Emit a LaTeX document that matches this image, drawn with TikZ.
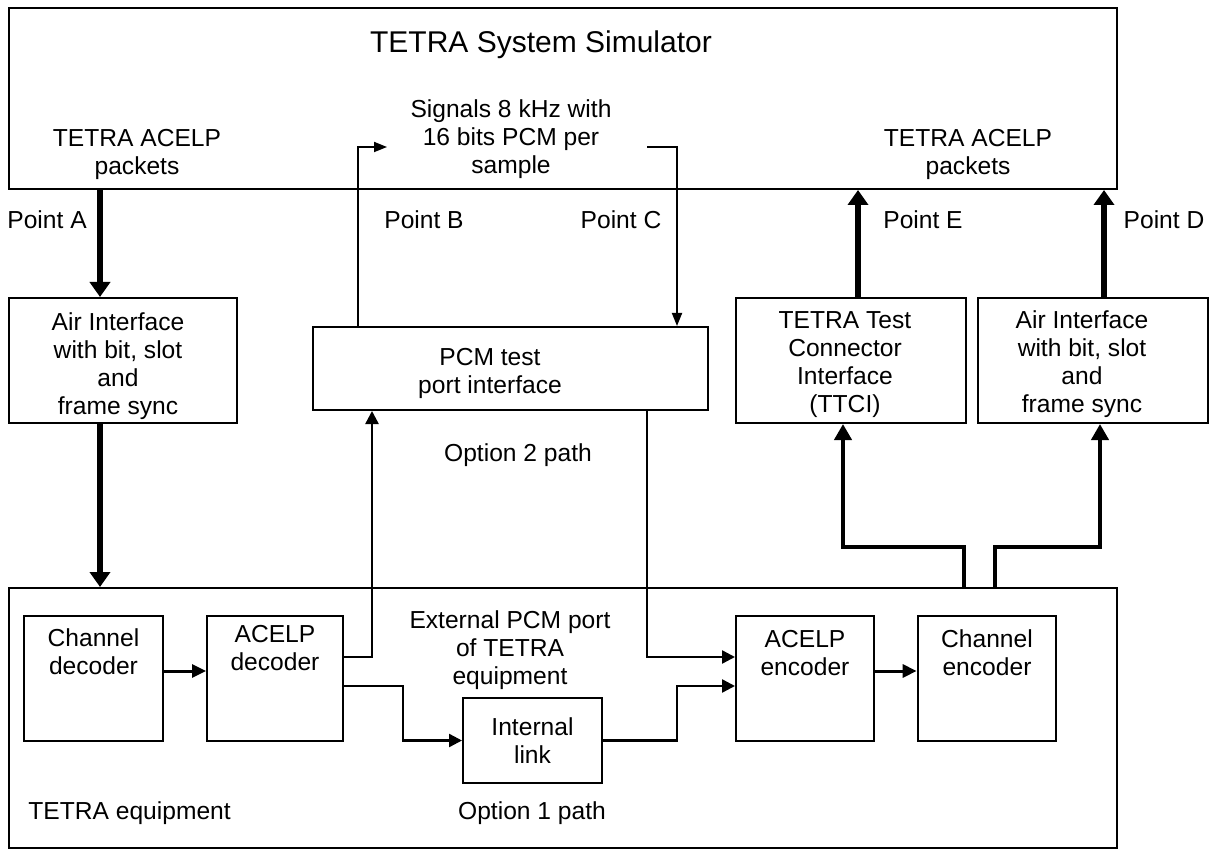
\documentclass[tikz,border=0pt]{standalone}
\usepackage{fontspec}
\setmainfont{Liberation Sans}
\usetikzlibrary{positioning,arrows.meta}

\tikzset{
	box/.style={draw=black, line width=1pt, align=center, inner sep=0pt},
	boldbox/.style={box, line width=1.35pt},
	txt/.style={align=center, inner sep=0pt},
	heavy/.style={line width=3.25pt, -{Triangle[length=7.5pt,width=10pt]}},
	feed/.style={line width=2.2pt, -{Triangle[length=8pt,width=8.5pt]}},
	signal/.style={line width=0.9pt, -{Triangle[length=6.5pt,width=5pt]}},
	wire/.style={line width=1.2pt, -{Triangle[length=6.5pt,width=6.5pt]}},
	midarrow/.style={line width=1.5pt, -{Triangle[length=7pt,width=6.5pt]}}
}

\begin{document}
\begin{tikzpicture}[x=0.5pt, y=-0.5pt, font=\fontsize{12.3}{14}\selectfont]
	\useasboundingbox (0,0) rectangle (1210,850);
	
	% simulator and interfaces
	\node[box, minimum width=554pt, minimum height=90.5pt] (sim) at (562.75,98.5) {};
	\node[box, minimum width=114pt, minimum height=62.5pt] (airl) at (123,360.5) {};
	\node[box, minimum width=197.5pt, minimum height=41.5pt] (pcm) at (510.5,368.5) {};
	\node[box, minimum width=115pt, minimum height=62.5pt] (ttci) at (851,360.5) {};
	\node[box, minimum width=115pt, minimum height=62.5pt] (airr) at (1093,360.5) {};
	
	\node[txt] (airltxt) at (118,366) {Air Interface\\with bit, slot\\and\\frame sync};
	\node[txt] (pcmtxt) at (490,373) {PCM test\\port interface};
	\node[txt] (ttcitxt) at (845,365) {TETRA Test\\Connector\\Interface\\(TTCI)};
	\node[txt] (airrtxt) at (1082,364) {Air Interface\\with bit, slot\\and\\frame sync};
	
	% equipment
	\node[box, minimum width=554pt, minimum height=130pt] (equip) at (563,718) {};
	\node[boldbox, minimum width=69.5pt, minimum height=62.5pt] (chdec) at (93.5,678.5) {};
	\node[box, minimum width=68pt, minimum height=62.5pt] (acdec) at (275,678.5) {};
	\node[box, minimum width=69.5pt, minimum height=42.5pt] (link) at (532.5,740.5) {Internal\\link};
	\node[box, minimum width=69pt, minimum height=62.5pt] (acenc) at (805,678.5) {};
	\node[boldbox, minimum width=69pt, minimum height=62.5pt] (chenc) at (987,678.5) {};
	
	\node[txt, below=7pt of chdec.north] (chdectxt) {Channel\\decoder};
	\node[txt, below=5.2pt of acdec.north] (acdectxt) {ACELP\\decoder};
	\node[txt, below=7.7pt of acenc.north] (acenctxt) {ACELP\\encoder};
	\node[txt, below=7.2pt of chenc.north] (chenctxt) {Channel\\encoder};
	
	% labels
	\node[txt, font=\fontsize{15}{18}\selectfont] (title) at (541,45) {TETRA System Simulator};
	\node[txt] (pktl) at (137,154) {TETRA ACELP\\packets};
	\node[txt] (pcmsig) at (511,139) {Signals 8 kHz with\\16 bits PCM per\\sample};
	\node[txt] (pktr) at (968,154) {TETRA ACELP\\packets};
	\node[txt, anchor=west] (pta) at (7,220) {Point A};
	\node[txt] (ptb) at (424,220) {Point B};
	\node[txt] (ptc) at (621,220) {Point C};
	\node[txt] (pte) at (923,220) {Point E};
	\node[txt] (ptd) at (1164,220) {Point D};
	\node[txt] (opt2) at (518,455) {Option 2 path};
	\node[txt] (extport) at (510,650) {External PCM port\\of TETRA\\equipment};
	\node[txt, anchor=west] (eqlbl) at (28,813) {TETRA equipment};
	\node[txt] (opt1) at (532,813) {Option 1 path};
	
	\coordinate (tosim) at (387,147);
	\coordinate (fromsim) at (647,147);
	
	% connectors
	\draw[heavy] (sim.south -| 100,0) -- (airl.north -| 100,0);
	\draw[heavy] (airl.south -| 100,0) -- (equip.north -| 100,0);
	\draw[heavy] (ttci.north -| 858,0) -- (sim.south -| 858,0);
	\draw[heavy] (airr.north -| 1104,0) -- (sim.south -| 1104,0);
	\draw[feed] (equip.north -| 964,0) |- (843,547) -- (ttci.south -| 843,0);
	\draw[feed] (equip.north -| 995,0) |- (1100,547) -- (airr.south -| 1100,0);
	
	\draw[signal] (pcm.north -| 358,0) |- (tosim);
	\draw[signal] (fromsim) -| (pcm.north -| 677,0);
	
	\draw[midarrow] (chdec.east |- 0,671) -- (acdec.west |- 0,671);
	\draw[wire] (acdec.east |- 0,657) -| (pcm.south -| 372,0);
	\draw[wire] (acdec.east |- 0,686) -| (403,740.5) -- (link.west);
	\draw[wire] (link.east) -| (677,686) -- (acenc.west |- 0,686);
	\draw[wire] (pcm.south -| 647,0) |- (acenc.west |- 0,657);
	\draw[midarrow] (acenc.east |- 0,671) -- (chenc.west |- 0,671);
	
\end{tikzpicture}
\end{document}
